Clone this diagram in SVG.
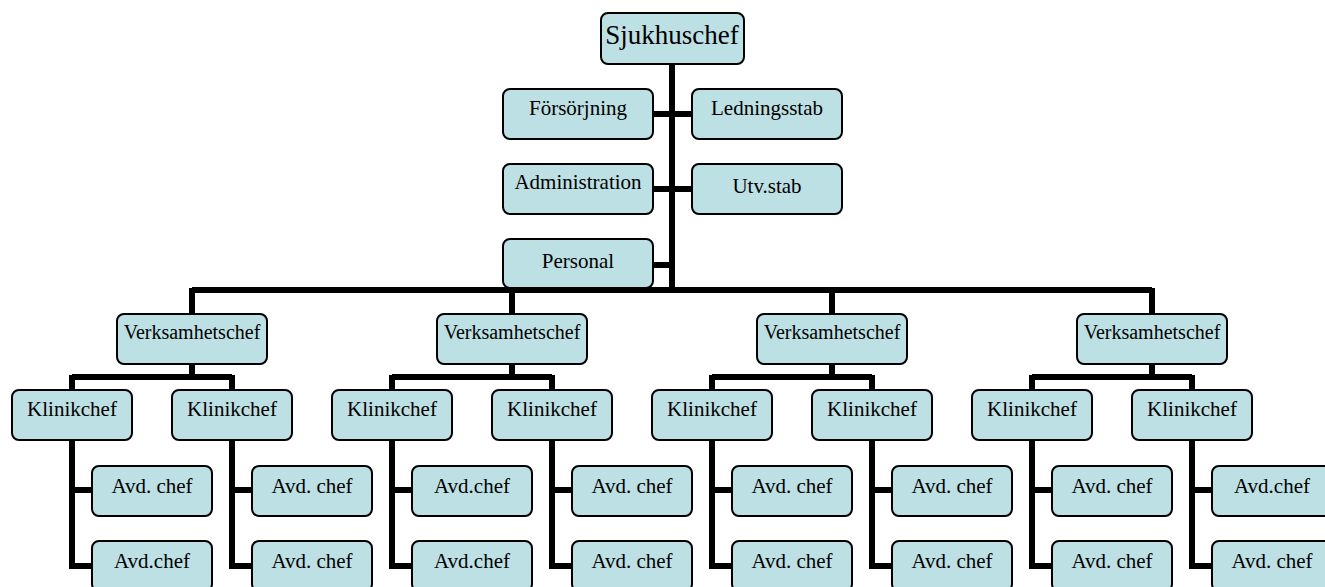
<svg xmlns="http://www.w3.org/2000/svg" width="1325" height="587" viewBox="0 0 1325 587">
<style>
.b{fill:#BCE0E3;stroke:#000;stroke-width:2}
.t{font-family:"Liberation Serif","Times New Roman",serif;font-size:21px;fill:#000;text-anchor:middle}
.v{font-size:20px}
.c{fill:none;stroke:#000;stroke-width:6}
</style>
<rect width="1325" height="587" fill="#fff"/>
<g id="connectors" class="c">
<path d="M672 64V290M653 114H692M653 189H692M653 265H672M192 290H1152"/>
<path id="g0" d="M192 288V314M192 364V377M72 377H232M72 375V390M232 375V390M72 440V569M72 490H92M72 566H92M232 440V569M232 490H252M232 566H252"/>
<use href="#g0" x="320"/>
<use href="#g0" x="640"/>
<use href="#g0" x="960"/>
</g>
<g id="sjukhuschef"><rect class="b" x="601" y="13" width="143" height="51" rx="7"/><text class="t" x="672" y="44" style="font-size:27px">Sjukhuschef</text></g>
<g id="forsorjning"><rect class="b" x="503" y="89" width="150" height="50" rx="7"/><text class="t" x="578" y="115">Försörjning</text></g>
<g id="ledningsstab"><rect class="b" x="692" y="89" width="150" height="50" rx="7"/><text class="t" x="767" y="115">Ledningsstab</text></g>
<g id="administration"><rect class="b" x="503" y="164" width="150" height="50" rx="7"/><text class="t" x="578" y="189">Administration</text></g>
<g id="utvstab"><rect class="b" x="692" y="164" width="150" height="50" rx="7"/><text class="t" x="767" y="193">Utv.stab</text></g>
<g id="personal"><rect class="b" x="503" y="239" width="150" height="49" rx="7"/><text class="t" x="578" y="268">Personal</text></g>

<g id="vc1"><rect class="b" x="117" y="314" width="150" height="50" rx="7"/><text class="t v" x="192" y="339">Verksamhetschef</text></g>
<g id="vc2"><rect class="b" x="437" y="314" width="150" height="50" rx="7"/><text class="t v" x="512" y="339">Verksamhetschef</text></g>
<g id="vc3"><rect class="b" x="757" y="314" width="150" height="50" rx="7"/><text class="t v" x="832" y="339">Verksamhetschef</text></g>
<g id="vc4"><rect class="b" x="1077" y="314" width="150" height="50" rx="7"/><text class="t v" x="1152" y="339">Verksamhetschef</text></g>

<g id="k1"><rect class="b" x="12" y="390" width="120" height="50" rx="7"/><text class="t" x="72" y="416">Klinikchef</text></g>
<g id="k2"><rect class="b" x="172" y="390" width="120" height="50" rx="7"/><text class="t" x="232" y="416">Klinikchef</text></g>
<g id="k3"><rect class="b" x="332" y="390" width="120" height="50" rx="7"/><text class="t" x="392" y="416">Klinikchef</text></g>
<g id="k4"><rect class="b" x="492" y="390" width="120" height="50" rx="7"/><text class="t" x="552" y="416">Klinikchef</text></g>
<g id="k5"><rect class="b" x="652" y="390" width="120" height="50" rx="7"/><text class="t" x="712" y="416">Klinikchef</text></g>
<g id="k6"><rect class="b" x="812" y="390" width="120" height="50" rx="7"/><text class="t" x="872" y="416">Klinikchef</text></g>
<g id="k7"><rect class="b" x="972" y="390" width="120" height="50" rx="7"/><text class="t" x="1032" y="416">Klinikchef</text></g>
<g id="k8"><rect class="b" x="1132" y="390" width="120" height="50" rx="7"/><text class="t" x="1192" y="416">Klinikchef</text></g>

<g id="a1"><rect class="b" x="92" y="466" width="120" height="50" rx="7"/><text class="t" x="152" y="493">Avd. chef</text></g>
<g id="a2"><rect class="b" x="92" y="541" width="120" height="50" rx="7"/><text class="t" x="152" y="568">Avd.chef</text></g>
<g id="a3"><rect class="b" x="252" y="466" width="120" height="50" rx="7"/><text class="t" x="312" y="493">Avd. chef</text></g>
<g id="a4"><rect class="b" x="252" y="541" width="120" height="50" rx="7"/><text class="t" x="312" y="568">Avd. chef</text></g>
<g id="a5"><rect class="b" x="412" y="466" width="120" height="50" rx="7"/><text class="t" x="472" y="493">Avd.chef</text></g>
<g id="a6"><rect class="b" x="412" y="541" width="120" height="50" rx="7"/><text class="t" x="472" y="568">Avd.chef</text></g>
<g id="a7"><rect class="b" x="572" y="466" width="120" height="50" rx="7"/><text class="t" x="632" y="493">Avd. chef</text></g>
<g id="a8"><rect class="b" x="572" y="541" width="120" height="50" rx="7"/><text class="t" x="632" y="568">Avd. chef</text></g>
<g id="a9"><rect class="b" x="732" y="466" width="120" height="50" rx="7"/><text class="t" x="792" y="493">Avd. chef</text></g>
<g id="a10"><rect class="b" x="732" y="541" width="120" height="50" rx="7"/><text class="t" x="792" y="568">Avd. chef</text></g>
<g id="a11"><rect class="b" x="892" y="466" width="120" height="50" rx="7"/><text class="t" x="952" y="493">Avd. chef</text></g>
<g id="a12"><rect class="b" x="892" y="541" width="120" height="50" rx="7"/><text class="t" x="952" y="568">Avd. chef</text></g>
<g id="a13"><rect class="b" x="1052" y="466" width="120" height="50" rx="7"/><text class="t" x="1112" y="493">Avd. chef</text></g>
<g id="a14"><rect class="b" x="1052" y="541" width="120" height="50" rx="7"/><text class="t" x="1112" y="568">Avd. chef</text></g>
<g id="a15"><rect class="b" x="1212" y="466" width="120" height="50" rx="7"/><text class="t" x="1272" y="493">Avd.chef</text></g>
<g id="a16"><rect class="b" x="1212" y="541" width="120" height="50" rx="7"/><text class="t" x="1272" y="568">Avd. chef</text></g>
</svg>
